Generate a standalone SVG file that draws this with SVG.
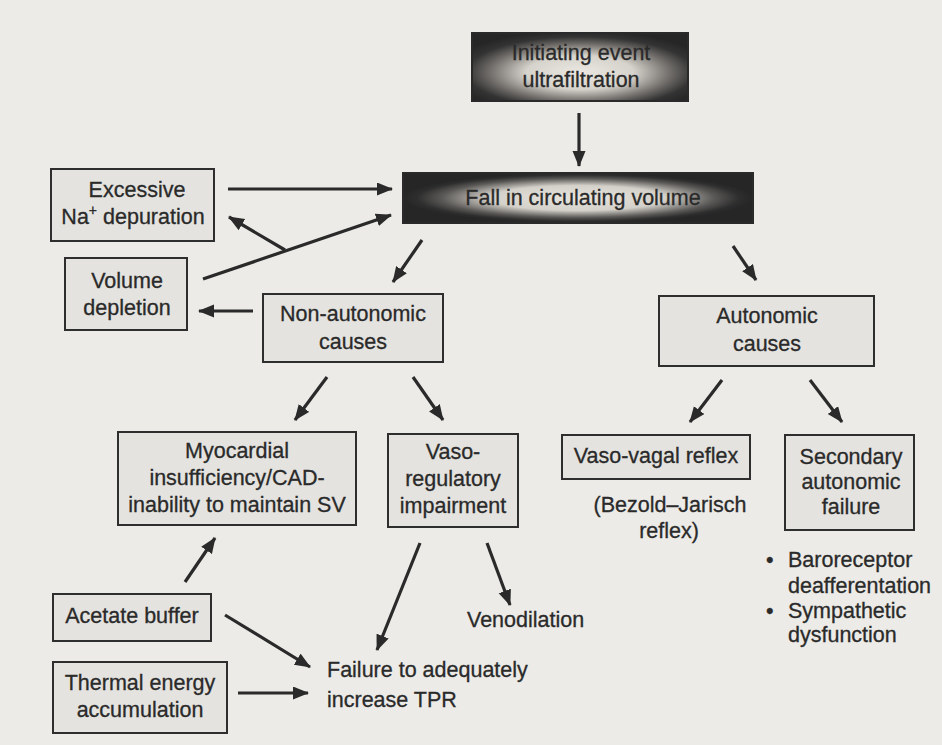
<svg xmlns="http://www.w3.org/2000/svg" width="942" height="745" viewBox="0 0 942 745">
<defs>
<style>
.t{font-family:"Liberation Sans",Arial,Helvetica,sans-serif;font-size:21.5px;fill:#2a2a2a;stroke:#2a2a2a;stroke-width:0.3;text-anchor:middle}
.l{text-anchor:start}
.box{fill:#e4e3df;stroke:#2e2e2e;stroke-width:2}
.dark{stroke:#2a2a2a;stroke-width:2}
.c{fill:none;stroke:#2a2a2a;stroke-width:3.2;marker-end:url(#ah)}
</style>
<marker id="ah" markerUnits="userSpaceOnUse" markerWidth="18" markerHeight="14" refX="15" refY="6.5" orient="auto">
<path d="M0,0 L16,6.5 L0,13 Z" fill="#2a2a2a"/>
</marker>
<radialGradient id="g1" cx="0.5" cy="0.58" r="0.62">
<stop offset="0" stop-color="#ebe8e1"/>
<stop offset="0.4" stop-color="#d6d3cc"/>
<stop offset="0.68" stop-color="#6e6b68"/>
<stop offset="0.85" stop-color="#333"/>
<stop offset="1" stop-color="#262626"/>
</radialGradient>
<radialGradient id="g2" cx="0.5" cy="0.5" r="0.5">
<stop offset="0" stop-color="#e8e5de"/>
<stop offset="0.5" stop-color="#d4d1ca"/>
<stop offset="0.78" stop-color="#5a5856"/>
<stop offset="0.92" stop-color="#2e2e2e"/>
<stop offset="1" stop-color="#262626"/>
</radialGradient>
</defs>
<rect x="0" y="0" width="942" height="745" fill="#ecebe7"/>

<g id="initiating">
<rect x="472" y="33" width="216" height="68" fill="url(#g1)" class="dark"/>
<text class="t" x="581" y="60">Initiating event</text>
<text class="t" x="581" y="87">ultrafiltration</text>
</g>
<g id="fall">
<rect x="403" y="173" width="350" height="50" fill="url(#g2)" class="dark"/>
<text class="t" x="583" y="205">Fall in circulating volume</text>
</g>
<g id="excessive">
<rect class="box" x="51" y="169" width="163" height="72"/>
<text class="t" x="137" y="197">Excessive</text>
<text class="t" x="133" y="224">Na<tspan font-size="14" dy="-9">+</tspan><tspan dy="9"> depuration</tspan></text>
</g>
<g id="volume">
<rect class="box" x="65" y="258" width="122" height="72"/>
<text class="t" x="127" y="288">Volume</text>
<text class="t" x="127" y="315">depletion</text>
</g>
<g id="nonautonomic">
<rect class="box" x="263" y="294" width="180" height="68"/>
<text class="t" x="353" y="321">Non-autonomic</text>
<text class="t" x="353" y="349">causes</text>
</g>
<g id="autonomic">
<rect class="box" x="659" y="296" width="215" height="70"/>
<text class="t" x="767" y="323">Autonomic</text>
<text class="t" x="767" y="351">causes</text>
</g>
<g id="myocardial">
<rect class="box" x="118" y="432" width="238" height="93"/>
<text class="t" x="237" y="458">Myocardial</text>
<text class="t" x="237" y="485">insufficiency/CAD-</text>
<text class="t" x="237" y="512">inability to maintain SV</text>
</g>
<g id="vasoregulatory">
<rect class="box" x="388" y="434" width="130" height="93"/>
<text class="t" x="453" y="459">Vaso-</text>
<text class="t" x="453" y="486">regulatory</text>
<text class="t" x="453" y="513">impairment</text>
</g>
<g id="vasovagal">
<rect class="box" x="562" y="435" width="188" height="44"/>
<text class="t" x="656" y="463">Vaso-vagal reflex</text>
<text class="t" x="670" y="512">(Bezold–Jarisch</text>
<text class="t" x="669" y="538">reflex)</text>
</g>
<g id="secondary">
<rect class="box" x="785" y="435" width="129" height="95"/>
<text class="t" x="851" y="464">Secondary</text>
<text class="t" x="851" y="489">autonomic</text>
<text class="t" x="851" y="514">failure</text>
<text class="t l" x="766" y="567">•</text>
<text class="t l" x="788" y="567">Baroreceptor</text>
<text class="t l" x="788" y="593">deafferentation</text>
<text class="t l" x="766" y="618">•</text>
<text class="t l" x="788" y="618">Sympathetic</text>
<text class="t l" x="788" y="642">dysfunction</text>
</g>
<g id="acetate">
<rect class="box" x="53" y="594" width="158" height="47"/>
<text class="t" x="132" y="623">Acetate buffer</text>
</g>
<g id="thermal">
<rect class="box" x="53" y="662" width="174" height="71"/>
<text class="t" x="140" y="690">Thermal energy</text>
<text class="t" x="140" y="717">accumulation</text>
</g>
<g id="venodilation">
<text class="t l" x="467" y="627">Venodilation</text>
</g>
<g id="failure">
<text class="t l" x="327" y="677">Failure to adequately</text>
<text class="t l" x="327" y="707">increase TPR</text>
</g>

<g id="connectors">
<line class="c" x1="579" y1="113" x2="579" y2="166"/>
<line class="c" x1="228" y1="189" x2="392" y2="189"/>
<line class="c" x1="203" y1="279" x2="391" y2="215"/>
<line class="c" x1="285" y1="250" x2="229" y2="217"/>
<line class="c" x1="253" y1="311" x2="199" y2="311"/>
<line class="c" x1="422" y1="240" x2="393" y2="282"/>
<line class="c" x1="733" y1="246" x2="756" y2="280"/>
<line class="c" x1="327" y1="377" x2="295" y2="420"/>
<line class="c" x1="413" y1="377" x2="443" y2="420"/>
<line class="c" x1="722" y1="380" x2="690" y2="422"/>
<line class="c" x1="810" y1="380" x2="842" y2="422"/>
<line class="c" x1="185" y1="582" x2="215" y2="538"/>
<line class="c" x1="225" y1="615" x2="310" y2="667"/>
<line class="c" x1="238" y1="693" x2="308" y2="693"/>
<line class="c" x1="420" y1="543" x2="377" y2="650"/>
<line class="c" x1="487" y1="543" x2="510" y2="605"/>
</g>
</svg>
